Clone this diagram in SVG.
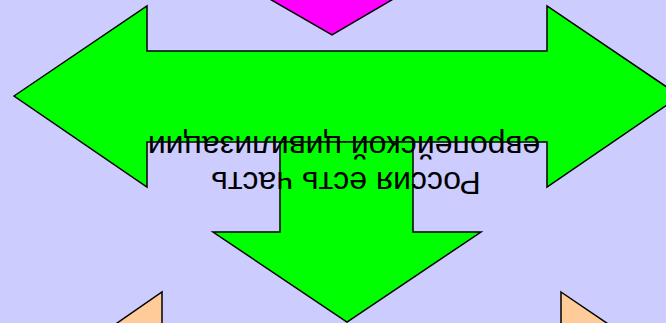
<svg xmlns="http://www.w3.org/2000/svg" width="666" height="323" viewBox="0 0 666 323">
<style>
.s{stroke:#000;stroke-width:1.5;stroke-linejoin:miter}
.g{fill:#00ff00}
.o{fill:#ffcc99}
.m{fill:#ff00ff}
.t{font-family:"Liberation Sans",Arial,sans-serif;font-size:32px;fill:#000;text-anchor:middle}
</style>
<rect width="666" height="323" fill="#ccccff"/>
<g id="top-arrow"><polygon class="s m" points="268,-2 395,-2 332,35"/></g>
<g id="bottom-left-arrow"><polygon class="s o" points="162,292 162,330 107,330"/></g>
<g id="bottom-right-arrow"><polygon class="s o" points="561,292 617,330 561,330"/></g>
<g id="connectors">
<polygon id="horizontal-arrow" class="s g" points="14,96 147,6 147,51 547,51 547,6 680,96 547,187 547,142 147,142 147,187"/>
<polygon id="down-arrow" class="s g" points="280,142 413,142 413,232 481,232 347,322 213,232 280,232"/>
</g>
<g id="label">
<text class="t" transform="translate(344,136) rotate(180)">европейской цивилизации</text>
<text class="t" transform="translate(346,172) rotate(180)">Россия есть часть</text>
</g>
</svg>
